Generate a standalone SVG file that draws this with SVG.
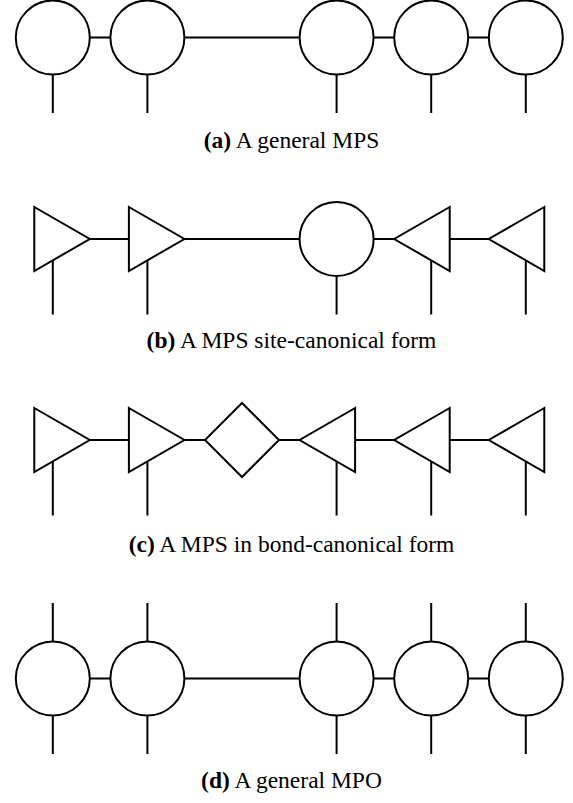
<svg xmlns="http://www.w3.org/2000/svg" width="573" height="803" viewBox="0 0 573 803">
<style>
.n{fill:#fff;stroke:#000;stroke-width:2}
.e{stroke:#000;stroke-width:2;fill:none}
.cap{font-family:"Liberation Serif","Times New Roman",serif;font-size:23.5px;fill:#000}
.b{font-weight:bold}
</style>
<defs>
<circle id="C" r="37" class="n"/>
<polygon id="R" points="-18.5,-32 37,0 -18.5,32" class="n"/>
<polygon id="L" points="18.5,-32 -37,0 18.5,32" class="n"/>
<polygon id="D" points="0,-37 37,0 0,37 -37,0" class="n"/>
</defs>
<g id="connectors">
<path class="e" d="M89.8,37.5H110.4M184.4,37.5H299.6M373.6,37.5H394.2M468.2,37.5H488.8"/>
<path class="e" d="M52.8,74.5V113M147.4,74.5V113M336.6,74.5V113M431.2,74.5V113M525.8,74.5V113"/>
<path class="e" d="M89.8,239H128.9M184.4,239H299.6M373.6,239H394.2M449.7,239H488.8"/>
<path class="e" d="M52.8,260.4V314.5M147.4,260.4V314.5M336.6,276V314.5M431.2,260.4V314.5M525.8,260.4V314.5"/>
<path class="e" d="M89.8,440H128.9M184.4,440H205M279,440H299.6M355.1,440H394.2M449.7,440H488.8"/>
<path class="e" d="M52.8,461.4V515.5M147.4,461.4V515.5M336.6,461.4V515.5M431.2,461.4V515.5M525.8,461.4V515.5"/>
<path class="e" d="M89.8,678.5H110.4M184.4,678.5H299.6M373.6,678.5H394.2M468.2,678.5H488.8"/>
<path class="e" d="M52.8,603V641.5M147.4,603V641.5M336.6,603V641.5M431.2,603V641.5M525.8,603V641.5"/>
<path class="e" d="M52.8,715.5V754M147.4,715.5V754M336.6,715.5V754M431.2,715.5V754M525.8,715.5V754"/>
</g>
<g id="a1"><use href="#C" x="52.8" y="37.5"/></g>
<g id="a2"><use href="#C" x="147.4" y="37.5"/></g>
<g id="a3"><use href="#C" x="336.6" y="37.5"/></g>
<g id="a4"><use href="#C" x="431.2" y="37.5"/></g>
<g id="a5"><use href="#C" x="525.8" y="37.5"/></g>
<g id="b1"><use href="#R" x="52.8" y="239"/></g>
<g id="b2"><use href="#R" x="147.4" y="239"/></g>
<g id="b3"><use href="#C" x="336.6" y="239"/></g>
<g id="b4"><use href="#L" x="431.2" y="239"/></g>
<g id="b5"><use href="#L" x="525.8" y="239"/></g>
<g id="c1"><use href="#R" x="52.8" y="440"/></g>
<g id="c2"><use href="#R" x="147.4" y="440"/></g>
<g id="c3"><use href="#D" x="242" y="440"/></g>
<g id="c4"><use href="#L" x="336.6" y="440"/></g>
<g id="c5"><use href="#L" x="431.2" y="440"/></g>
<g id="c6"><use href="#L" x="525.8" y="440"/></g>
<g id="d1"><use href="#C" x="52.8" y="678.5"/></g>
<g id="d2"><use href="#C" x="147.4" y="678.5"/></g>
<g id="d3"><use href="#C" x="336.6" y="678.5"/></g>
<g id="d4"><use href="#C" x="431.2" y="678.5"/></g>
<g id="d5"><use href="#C" x="525.8" y="678.5"/></g>
<g id="captions" class="cap" text-anchor="middle">
<text x="291.5" y="148"><tspan class="b">(a)</tspan> A general MPS</text>
<text x="291.5" y="348"><tspan class="b">(b)</tspan> A MPS site-canonical form</text>
<text x="291.5" y="552"><tspan class="b">(c)</tspan> A MPS in bond-canonical form</text>
<text x="291.5" y="788"><tspan class="b">(d)</tspan> A general MPO</text>
</g>
</svg>
